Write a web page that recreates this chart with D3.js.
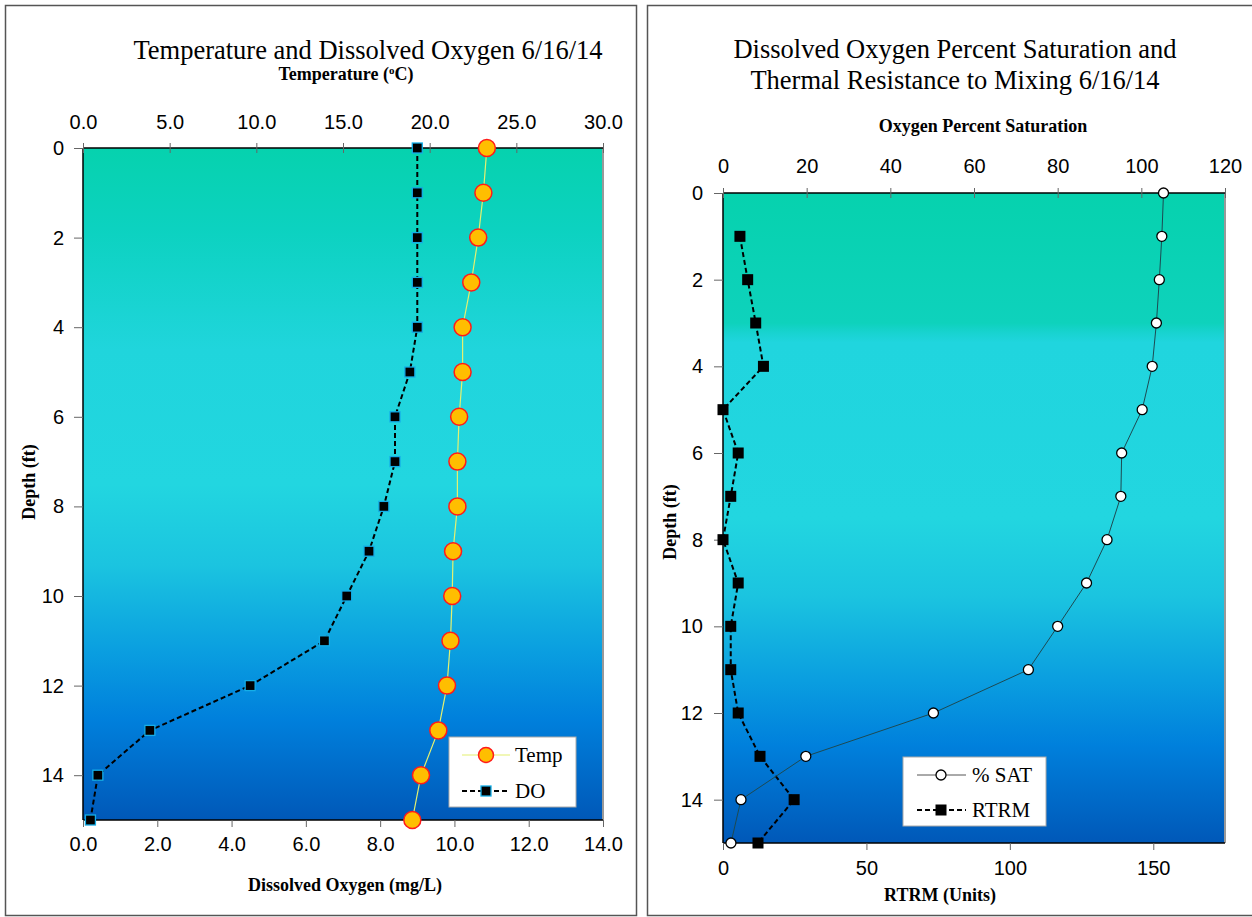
<!DOCTYPE html>
<html>
<head>
<meta charset="utf-8">
<script src="https://cdn.jsdelivr.net/npm/d3@7"></script>
<style>
  body { margin: 0; background: #fff; }
  svg text { fill: #000; }
</style>
</head>
<body>
<svg id="chart" width="1252" height="917"></svg>
<script>
// depth of each reading (ft)
const depths = [0, 1, 2, 3, 4, 5, 6, 7, 8, 9, 10, 11, 12, 13, 14, 15];
// left panel
const tempC = [23.3, 23.1, 22.8, 22.4, 21.9, 21.9, 21.7, 21.6, 21.6, 21.35, 21.3, 21.2, 21.0, 20.5, 19.5, 19.0];
const dissolvedO2 = [9.0, 9.0, 9.0, 9.0, 9.0, 8.8, 8.4, 8.4, 8.1, 7.7, 7.1, 6.5, 4.5, 1.8, 0.4, 0.2];
// right panel
const pctSat = [105.3, 104.9, 104.3, 103.6, 102.6, 100.2, 95.3, 95.1, 91.8, 86.9, 80.0, 73.0, 50.3, 19.8, 4.3, 1.9];
const rtrmDepths = [1, 2, 3, 4, 5, 6, 7, 8, 9, 10, 11, 12, 13, 14, 15];
const rtrm = [5.9, 8.6, 11.4, 14.1, 0, 5.3, 2.7, 0, 5.3, 2.7, 2.7, 5.3, 12.9, 24.8, 12.2];

const depthTicks = [0, 2, 4, 6, 8, 10, 12, 14];
const tempTicks = [0, 5, 10, 15, 20, 25, 30];
const doTicks = [0, 2, 4, 6, 8, 10, 12, 14];
const satTicks = [0, 20, 40, 60, 80, 100, 120];
const rtrmTicks = [0, 50, 100, 150];

const serif = "'Liberation Serif', 'Times New Roman', serif";
const sans = "'Liberation Sans', Arial, sans-serif";
const titleSize = 26.5, axisTitleSize = 18, tickSize = 20;

const svg = d3.select("#chart");
const defs = svg.append("defs");

// background gradients of the two plot areas
function addGradient(id, stops) {
  const g = defs.append("linearGradient").attr("id", id)
    .attr("x1", 0).attr("y1", 0).attr("x2", 0).attr("y2", 1);
  stops.forEach(s => g.append("stop").attr("offset", s[0]).attr("stop-color", s[1]));
}
addGradient("bgLeft", [[0, "#06d2ae"], [0.12, "#0cd2c0"], [0.3, "#20d5dc"], [0.5, "#22d6e0"], [0.62, "#1bc4e0"], [0.75, "#0a9ee0"], [0.85, "#0080dc"], [1, "#0058b8"]]);
addGradient("bgRight", [[0, "#06d2ae"], [0.2, "#0ed2bc"], [0.215, "#18d3d0"], [0.23, "#20d5de"], [0.5, "#22d6e0"], [0.62, "#1bc4e0"], [0.75, "#0a9ee0"], [0.85, "#0080dc"], [1, "#0058b8"]]);

// panel frames
svg.append("rect").attr("x", 5.5).attr("y", 5.5).attr("width", 631).attr("height", 910)
  .attr("fill", "#fff").attr("stroke", "#555").attr("stroke-width", 1.5);
svg.append("rect").attr("x", 647.5).attr("y", 5.5).attr("width", 610).attr("height", 910)
  .attr("fill", "#fff").attr("stroke", "#555").attr("stroke-width", 1.5);

function styleAxis(g, cross) {
  g.select(".domain").remove();
  g.selectAll(".tick line").attr("stroke", "#666");
  if (cross) g.selectAll(".tick line").attr("y1", -5).attr("y2", 5);
  g.selectAll(".tick text").attr("font-family", sans).attr("font-size", tickSize).attr("fill", "#000");
}

function plotFrame(x0, x1, y0, y1, grad) {
  svg.append("rect").attr("x", x0).attr("y", y0).attr("width", x1 - x0).attr("height", y1 - y0)
    .attr("fill", "url(#" + grad + ")");
  svg.append("line").attr("x1", x1).attr("x2", x1).attr("y1", y0).attr("y2", y1)
    .attr("stroke", "#999").attr("stroke-width", 2);
  svg.append("line").attr("x1", x0).attr("x2", x0).attr("y1", y0).attr("y2", y1)
    .attr("stroke", "#000").attr("stroke-width", 1.5);
  svg.append("line").attr("x1", x0).attr("x2", x1).attr("y1", y0).attr("y2", y0)
    .attr("stroke", "#000").attr("stroke-width", 1.5);
  svg.append("line").attr("x1", x0).attr("x2", x1).attr("y1", y1).attr("y2", y1)
    .attr("stroke", "#000").attr("stroke-width", 1.5);
}

function boldLabel(x, y, txt, rotate) {
  const t = svg.append("text").attr("text-anchor", "middle")
    .attr("font-family", serif).attr("font-size", axisTitleSize).attr("font-weight", "bold");
  if (rotate) t.attr("transform", `translate(${x},${y}) rotate(-90)`);
  else t.attr("x", x).attr("y", y);
  return t.text(txt);
}

// ---------- LEFT: temperature and DO ----------
const L = { x0: 83, x1: 603, y0: 148, y1: 820 };
const yL = d3.scaleLinear().domain([0, 15]).range([L.y0, L.y1]);
const xTemp = d3.scaleLinear().domain([0, 30]).range([L.x0, L.x1]);
const xDO = d3.scaleLinear().domain([0, 14]).range([L.x0, L.x1]);

plotFrame(L.x0, L.x1, L.y0, L.y1, "bgLeft");

svg.append("g").attr("transform", `translate(0,${L.y0})`)
  .call(d3.axisTop(xTemp).tickValues(tempTicks).tickFormat(d3.format(".1f")).tickSize(5).tickPadding(14))
  .call(g => styleAxis(g, true));
svg.append("g").attr("transform", `translate(0,${L.y1})`)
  .call(d3.axisBottom(xDO).tickValues(doTicks).tickFormat(d3.format(".1f")).tickSize(7).tickPadding(10))
  .call(g => styleAxis(g, false));
svg.append("g").attr("transform", `translate(${L.x0},0)`)
  .call(d3.axisLeft(yL).tickValues(depthTicks).tickSize(9).tickPadding(10))
  .call(g => styleAxis(g, false));

// DO line and markers
svg.append("path")
  .attr("d", d3.line().x(d => xDO(d)).y((d, i) => yL(depths[i]))(dissolvedO2))
  .attr("fill", "none").attr("stroke", "#000").attr("stroke-width", 2).attr("stroke-dasharray", "5,3");
svg.selectAll(".doPt").data(dissolvedO2).enter().append("rect")
  .attr("x", d => xDO(d) - 5).attr("y", (d, i) => yL(depths[i]) - 5)
  .attr("width", 10).attr("height", 10)
  .attr("fill", "#000").attr("stroke", "#14aee8").attr("stroke-width", 1.3);

// Temp line and markers
svg.append("path")
  .attr("d", d3.line().x(d => xTemp(d)).y((d, i) => yL(depths[i]))(tempC))
  .attr("fill", "none").attr("stroke", "#e4f070").attr("stroke-width", 1.2);
svg.selectAll(".tPt").data(tempC).enter().append("circle")
  .attr("cx", d => xTemp(d)).attr("cy", (d, i) => yL(depths[i])).attr("r", 8.5)
  .attr("fill", "#ffbe00").attr("stroke", "#ff1a1a").attr("stroke-width", 1.5);

// titles
svg.append("text").attr("x", 368).attr("y", 59).attr("text-anchor", "middle")
  .attr("font-family", serif).attr("font-size", titleSize).text("Temperature and Dissolved Oxygen 6/16/14");
const sub = svg.append("text").attr("x", 346).attr("y", 80).attr("text-anchor", "middle")
  .attr("font-family", serif).attr("font-size", axisTitleSize).attr("font-weight", "bold");
sub.append("tspan").text("Temperature (");
sub.append("tspan").attr("font-size", 11).attr("dy", -6).text("o");
sub.append("tspan").attr("dy", 6).text("C)");
boldLabel(345, 891, "Dissolved Oxygen (mg/L)");
boldLabel(35, 482, "Depth (ft)", true);

// legend
const lgL = svg.append("g").attr("transform", "translate(449,737)");
lgL.append("rect").attr("width", 127).attr("height", 70).attr("fill", "#fff").attr("stroke", "#aaa");
lgL.append("line").attr("x1", 13).attr("x2", 61).attr("y1", 18).attr("y2", 18).attr("stroke", "#e4f070").attr("stroke-width", 1.2);
lgL.append("circle").attr("cx", 37).attr("cy", 18).attr("r", 7.5).attr("fill", "#ffbe00").attr("stroke", "#ff1a1a").attr("stroke-width", 1.5);
lgL.append("text").attr("x", 66).attr("y", 25).attr("font-family", serif).attr("font-size", 21).text("Temp");
lgL.append("line").attr("x1", 13).attr("x2", 61).attr("y1", 54).attr("y2", 54).attr("stroke", "#000").attr("stroke-width", 2).attr("stroke-dasharray", "5,3");
lgL.append("rect").attr("x", 32).attr("y", 49).attr("width", 10).attr("height", 10).attr("fill", "#000").attr("stroke", "#14aee8").attr("stroke-width", 1.3);
lgL.append("text").attr("x", 66).attr("y", 61).attr("font-family", serif).attr("font-size", 21).text("DO");

// ---------- RIGHT: % saturation and RTRM ----------
const R = { x0: 723, x1: 1225, y0: 193, y1: 843 };
const yR = d3.scaleLinear().domain([0, 15]).range([R.y0, R.y1]);
const xSat = d3.scaleLinear().domain([0, 120]).range([R.x0, R.x1]);
const xRtrm = d3.scaleLinear().domain([0, 175]).range([R.x0, R.x1]);

plotFrame(R.x0, R.x1, R.y0, R.y1, "bgRight");

svg.append("g").attr("transform", `translate(0,${R.y0})`)
  .call(d3.axisTop(xSat).tickValues(satTicks).tickFormat(d3.format("d")).tickSize(5).tickPadding(15))
  .call(g => styleAxis(g, true));
svg.append("g").attr("transform", `translate(0,${R.y1})`)
  .call(d3.axisBottom(xRtrm).tickValues(rtrmTicks).tickFormat(d3.format("d")).tickSize(7).tickPadding(11))
  .call(g => styleAxis(g, false));
svg.append("g").attr("transform", `translate(${R.x0},0)`)
  .call(d3.axisLeft(yR).tickValues(depthTicks).tickSize(9).tickPadding(11))
  .call(g => styleAxis(g, false));

// RTRM
svg.append("path")
  .attr("d", d3.line().x(d => xRtrm(d)).y((d, i) => yR(rtrmDepths[i]))(rtrm))
  .attr("fill", "none").attr("stroke", "#000").attr("stroke-width", 2).attr("stroke-dasharray", "5,3");
svg.selectAll(".rPt").data(rtrm).enter().append("rect")
  .attr("x", d => xRtrm(d) - 5.5).attr("y", (d, i) => yR(rtrmDepths[i]) - 5.5)
  .attr("width", 11).attr("height", 11).attr("fill", "#000");

// % SAT
svg.append("path")
  .attr("d", d3.line().x(d => xSat(d)).y((d, i) => yR(depths[i]))(pctSat))
  .attr("fill", "none").attr("stroke", "#1d4a52").attr("stroke-width", 1);
svg.selectAll(".sPt").data(pctSat).enter().append("circle")
  .attr("cx", d => xSat(d)).attr("cy", (d, i) => yR(depths[i])).attr("r", 5)
  .attr("fill", "#fff").attr("stroke", "#000").attr("stroke-width", 1.3);

svg.append("text").attr("x", 955).attr("y", 58).attr("text-anchor", "middle")
  .attr("font-family", serif).attr("font-size", titleSize).text("Dissolved Oxygen Percent Saturation and");
svg.append("text").attr("x", 955).attr("y", 89).attr("text-anchor", "middle")
  .attr("font-family", serif).attr("font-size", titleSize).text("Thermal Resistance to Mixing 6/16/14");
boldLabel(983, 132, "Oxygen Percent Saturation");
boldLabel(940, 901, "RTRM (Units)");
boldLabel(676, 522, "Depth (ft)", true);

const lgR = svg.append("g").attr("transform", "translate(903,757)");
lgR.append("rect").attr("width", 143).attr("height", 69).attr("fill", "#fff").attr("stroke", "#aaa");
lgR.append("line").attr("x1", 14).attr("x2", 63).attr("y1", 18).attr("y2", 18).attr("stroke", "#555").attr("stroke-width", 1);
lgR.append("circle").attr("cx", 38).attr("cy", 18).attr("r", 5).attr("fill", "#fff").attr("stroke", "#000").attr("stroke-width", 1.3);
lgR.append("text").attr("x", 69).attr("y", 25).attr("font-family", serif).attr("font-size", 21).text("% SAT");
lgR.append("line").attr("x1", 14).attr("x2", 63).attr("y1", 53).attr("y2", 53).attr("stroke", "#000").attr("stroke-width", 2).attr("stroke-dasharray", "5,3");
lgR.append("rect").attr("x", 32.5).attr("y", 47.5).attr("width", 11).attr("height", 11).attr("fill", "#000");
lgR.append("text").attr("x", 69).attr("y", 60).attr("font-family", serif).attr("font-size", 21).text("RTRM");
</script>
</body>
</html>
